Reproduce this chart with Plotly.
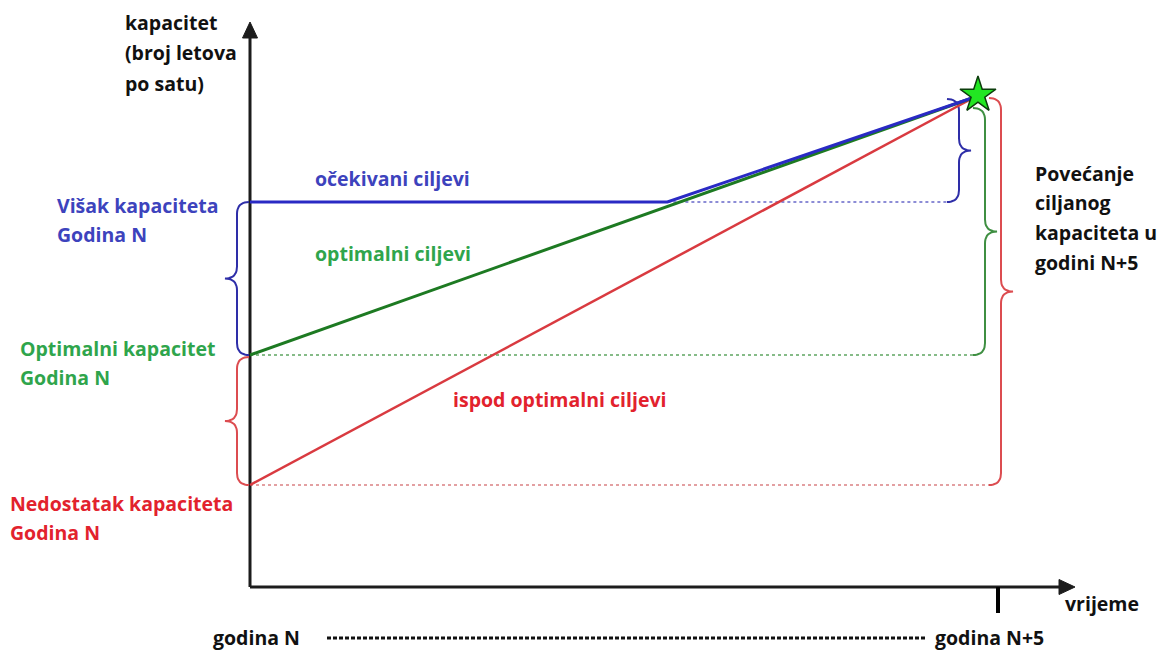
import plotly.graph_objects as go

# ---------------- data (conceptual units) ----------------
time_labels = ["godina N", "godina N+5"]
time_ticks = [0.0, 5.0]                 # year N, year N+5
target_year = 4.846                     # where the target (star) sits

cap_target_n5 = 49.0                    # targeted capacity in year N+5
cap_excess_n = 38.5                     # capacity with excess, year N
cap_optimal_n = 23.2                    # optimal capacity, year N
cap_shortage_n = 10.2                   # capacity with shortage, year N
expected_flat_until = 2.79              # expected targets stay flat until here

expected_x = [0.0, expected_flat_until, target_year]
expected_y = [cap_excess_n, cap_excess_n, cap_target_n5]
optimal_x = [0.0, target_year]
optimal_y = [cap_optimal_n, cap_target_n5]
shortage_x = [0.0, target_year]
shortage_y = [cap_shortage_n, cap_target_n5]

# ---------------- layout helpers (pixel <-> data) ----------------
W, H = 1162, 652
X0, SX = 250.0, 149.6      # pixel of year 0, pixels per year
Y0, SY = 587.0, 10.0       # pixel of capacity 0, pixels per unit


def px2x(px):
    return (px - X0) / SX


def px2y(py):
    return (Y0 - py) / SY


def x2px(x):
    return X0 + x * SX


def y2px(y):
    return Y0 - y * SY


def bez(p0, p1, p2, n=10):
    pts = []
    for i in range(n + 1):
        t = i / n
        x = (1 - t) ** 2 * p0[0] + 2 * (1 - t) * t * p1[0] + t ** 2 * p2[0]
        y = (1 - t) ** 2 * p0[1] + 2 * (1 - t) * t * p1[1] + t ** 2 * p2[1]
        pts.append((x, y))
    return pts


def brace(spine, ytop, ybot, d, r=12):
    """curly brace in pixel space; d=+1 '}' , d=-1 '{'"""
    cy = (ytop + ybot) / 2
    pts = []
    pts += bez((spine - d * r, ytop), (spine, ytop), (spine, ytop + r))
    pts += bez((spine, cy - r), (spine, cy), (spine + d * r, cy))
    pts += bez((spine + d * r, cy), (spine, cy), (spine, cy + r))
    pts += bez((spine, ybot - r), (spine, ybot), (spine - d * r, ybot))
    return [px2x(p[0]) for p in pts], [px2y(p[1]) for p in pts]


BLUE_L, GREEN_L, RED_L = "#2a2ac4", "#1d7a22", "#d93a40"
BLUE_B, GREEN_B, RED_B = "#2e2ea8", "#3f8f42", "#dc4c50"
BLUE_D, GREEN_D, RED_D = "#8c8cd6", "#86bb88", "#e3a0a2"
BLUE_T, GREEN_T, RED_T = "#3d43bd", "#2fa54c", "#e2222d"
AX = "#1c1c1c"

fig = go.Figure()


def line(x, y, color, width, dash="solid"):
    fig.add_trace(go.Scatter(x=x, y=y, mode="lines", hoverinfo="skip",
                             line=dict(color=color, width=width, dash=dash),
                             showlegend=False))


def poly(xs, ys, color):
    fig.add_trace(go.Scatter(x=xs, y=ys, mode="lines", fill="toself",
                             fillcolor=color, line=dict(color=color, width=1),
                             hoverinfo="skip", showlegend=False))


# dotted reference levels
line([expected_flat_until, px2x(959 - 12)], [cap_excess_n, cap_excess_n], BLUE_D, 2, "dot")
line([0.0, px2x(985 - 12)], [cap_optimal_n, cap_optimal_n], GREEN_D, 2, "dot")
line([0.0, px2x(1001 - 12)], [cap_shortage_n, cap_shortage_n], RED_D, 2, "dot")

# axes with arrowheads
y_tip = 22
line([0.0, 0.0], [0.0, px2y(y_tip + 14)], AX, 3)
poly([px2x(X0 - 7.5), px2x(X0 + 7.5), px2x(X0), px2x(X0 - 7.5)],
     [px2y(y_tip + 16), px2y(y_tip + 16), px2y(y_tip), px2y(y_tip + 16)], AX)
x_tip = 1075
line([0.0, px2x(x_tip - 14)], [0.0, 0.0], AX, 3)
poly([px2x(x_tip - 16), px2x(x_tip - 16), px2x(x_tip), px2x(x_tip - 16)],
     [px2y(Y0 - 7.5), px2y(Y0 + 7.5), px2y(Y0), px2y(Y0 - 7.5)], AX)

# N+5 tick
line([time_ticks[1], time_ticks[1]], [0.0, px2y(Y0 + 26)], "#000000", 4)

# bottom dotted time span
line([px2x(327), px2x(925)], [px2y(638), px2y(638)], "#111111", 3, "4px,2px")

# braces
bx, by = brace(237, y2px(cap_excess_n), y2px(cap_optimal_n), -1)
line(bx, by, BLUE_B, 2)
bx, by = brace(237, y2px(cap_optimal_n) + 2, y2px(cap_shortage_n), -1)
line(bx, by, RED_B, 2)
bx, by = brace(959, y2px(cap_target_n5) + 2, y2px(cap_excess_n), 1)
line(bx, by, BLUE_B, 2)
bx, by = brace(985, y2px(cap_target_n5) + 11, y2px(cap_optimal_n), 1)
line(bx, by, GREEN_B, 2)
bx, by = brace(1001, y2px(cap_target_n5) + 1, y2px(cap_shortage_n), 1)
line(bx, by, RED_B, 2)

# target trajectories
line(shortage_x, shortage_y, RED_L, 2.5)
line(optimal_x, optimal_y, GREEN_L, 3)
line(expected_x, expected_y, BLUE_L, 3)

# star
fig.add_trace(go.Scatter(x=[target_year + px2x(X0 + 3)], y=[cap_target_n5 + 0.2],
                         mode="markers", hoverinfo="skip", showlegend=False,
                         marker=dict(symbol="star", size=27, color="#22e622",
                                     line=dict(color="#0c3d0c", width=1.5))))

# ---------------- text ----------------
FONT = "Open Sans"
FS = 19.5


def text(s, px, py, color="#111111", size=FS):
    fig.add_annotation(x=px / W, y=1 - py / H, xref="paper", yref="paper",
                       text="<b>" + s + "</b>", showarrow=False,
                       xanchor="left", yanchor="middle",
                       font=dict(family=FONT, size=size, color=color))


for i, s in enumerate(["kapacitet", "(broj letova", "po satu)"]):
    text(s, 123, 22 + 30.5 * i)
for i, s in enumerate(["Višak kapaciteta", "Godina N"]):
    text(s, 55, 205 + 29.5 * i, BLUE_T)
for i, s in enumerate(["Optimalni kapacitet", "Godina N"]):
    text(s, 18, 348 + 29.5 * i, GREEN_T)
for i, s in enumerate(["Nedostatak kapaciteta", "Godina N"]):
    text(s, 8, 503 + 29.5 * i, RED_T)
for i, s in enumerate(["Povećanje", "ciljanog", "kapaciteta u", "godini N+5"]):
    text(s, 1033, 173 + 29.8 * i)

text("očekivani ciljevi", 313, 178, BLUE_T)
text("optimalni ciljevi", 313, 254, GREEN_T)
text("ispod optimalni ciljevi", 451, 399, RED_T)
text("vrijeme", 1063, 603)
text(time_labels[0], 211, 637)
text(time_labels[1], 933, 637)

fig.update_layout(
    width=W, height=H, autosize=False,
    margin=dict(l=0, r=0, t=0, b=0),
    paper_bgcolor="white", plot_bgcolor="white",
    xaxis=dict(range=[px2x(0), px2x(W)], visible=False, fixedrange=True),
    yaxis=dict(range=[px2y(H), px2y(0)], visible=False, fixedrange=True),
)

fig.write_html("out.html", config={"displayModeBar": False},
               post_script="document.body.style.margin='0px';"
                           "document.body.style.overflow='hidden';")
